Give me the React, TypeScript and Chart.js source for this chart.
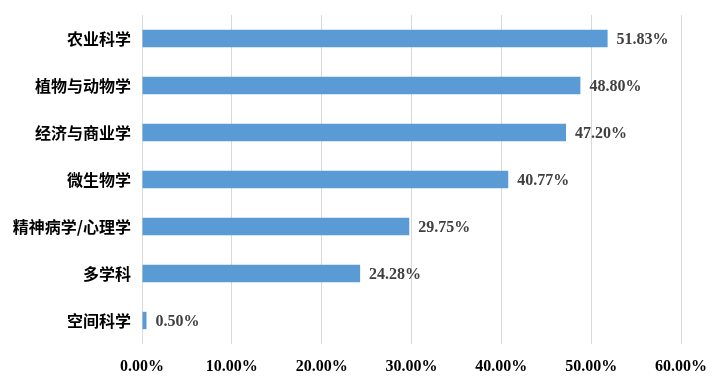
import React, { useEffect, useRef } from "react";
import { Chart, registerables } from "chart.js";

Chart.register(...registerables);

const categories = ["农业科学", "植物与动物学", "经济与商业学", "微生物学", "精神病学/心理学", "多学科", "空间科学"];
const values = [51.83, 48.8, 47.2, 40.77, 29.75, 24.28, 0.5];
const xTicks = [0, 10, 20, 30, 40, 50, 60];

const labelPlugin = {
  id: "barLabels",
  afterDatasetsDraw(chart: any) {
    const ctx = chart.ctx;
    const meta = chart.getDatasetMeta(0);
    ctx.save();
    ctx.font = "bold 16px 'Liberation Serif', 'Times New Roman', serif";
    ctx.fillStyle = "#404040";
    ctx.textAlign = "left";
    ctx.textBaseline = "middle";
    meta.data.forEach((bar: any, i: number) => {
      ctx.fillText(values[i].toFixed(2) + "%", bar.x + 9, bar.y + 1);
    });
    ctx.restore();
  },
};

export default function App() {
  const ref = useRef<HTMLCanvasElement | null>(null);
  useEffect(() => {
    document.body.style.margin = "0";
    const chart = new Chart(ref.current!, {
      type: "bar",
      data: {
        labels: categories,
        datasets: [
          {
            data: values,
            backgroundColor: "#5B9BD5",
            barPercentage: 0.74,
            categoryPercentage: 0.5,
          },
        ],
      },
      options: {
        indexAxis: "y",
        animation: false,
        responsive: false,
        layout: { padding: { left: 0, right: 33, top: 15, bottom: 0 } },
        plugins: { legend: { display: false }, tooltip: { enabled: false } },
        scales: {
          x: {
            min: 0,
            max: 60,
            afterBuildTicks: (s: any) => {
              s.ticks = xTicks.map((v) => ({ value: v }));
            },
            afterFit: (s: any) => {
              s.height = 41;
              s.paddingLeft = 0;
              s.paddingRight = 0;
            },
            grid: { color: "#D9D9D9", drawTicks: false, lineWidth: 1 },
            border: { display: false },
            ticks: {
              padding: 13,
              color: "#000",
              font: { family: "'Liberation Serif', 'Times New Roman', serif", size: 16, weight: "bold" },
              callback: (v: any) => Number(v).toFixed(2) + "%",
            },
          },
          y: {
            afterFit: (s: any) => {
              s.width = 142;
              s.paddingTop = 0;
              s.paddingBottom = 0;
            },
            grid: { display: false, drawTicks: false },
            border: { display: false },
            ticks: {
              padding: 11,
              color: "#000",
              font: { family: "'Noto Sans CJK SC', sans-serif", size: 16, weight: "bold" },
            },
          },
        },
      },
      plugins: [labelPlugin],
    });
    return () => chart.destroy();
  }, []);
  return <canvas ref={ref} width={714} height={385} style={{ display: "block" }} />;
}
